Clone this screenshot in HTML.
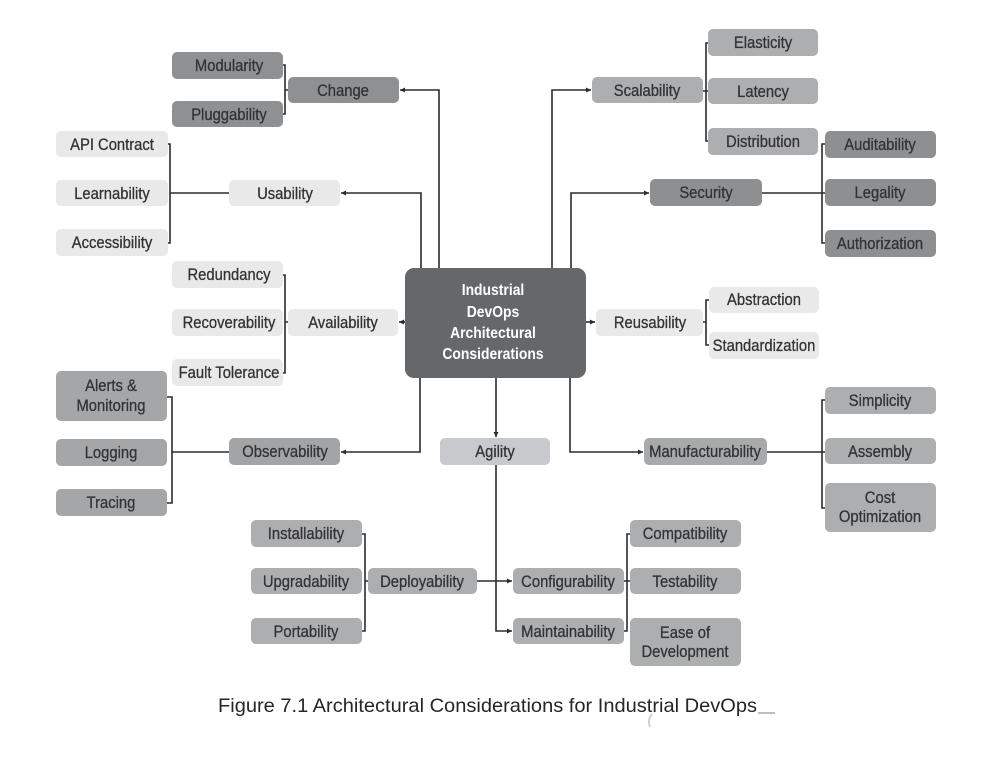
<!DOCTYPE html>
<html><head><meta charset="utf-8"><style>
html,body{margin:0;padding:0;background:#fff;}
svg{display:block;}
.t{font-family:"Liberation Sans",Arial,sans-serif;font-size:17px;fill:#333335;stroke:#333335;stroke-width:0.3;text-anchor:middle;}
.c{font-family:"Liberation Sans",Arial,sans-serif;font-size:16px;font-weight:bold;fill:#fff;text-anchor:middle;}
.ln{fill:none;stroke:#2b2b2b;stroke-width:1.6;}
</style></head><body>
<svg width="999" height="767" viewBox="0 0 999 767" xmlns="http://www.w3.org/2000/svg">
<defs>
<marker id="a" markerUnits="userSpaceOnUse" markerWidth="6" markerHeight="6" refX="5" refY="3" orient="auto"><path d="M0,0.5 L5,3 L0,5.5 z" fill="#2b2b2b"/></marker>
</defs>
<rect width="999" height="767" fill="#fff"/>

<g class="ln">
<polyline points="439,268 439,90 400,90" marker-end="url(#a)"/>
<path d="M281,65 H285 V114 H281 M285,90 H288"/>
<polyline points="421,268 421,193 341,193" marker-end="url(#a)"/>
<path d="M166,144 H170 V243 H166 M170,193 H229"/>
<line x1="405" y1="322" x2="399" y2="322" marker-end="url(#a)"/>
<path d="M281,275 H285 V373 H281 M285,322 H288"/>
<polyline points="420,378 420,452 341,452" marker-end="url(#a)"/>
<path d="M165,397 H172 V503 H165 M172,452 H229"/>
<line x1="496" y1="378" x2="496" y2="437" marker-end="url(#a)"/>
<polyline points="496,465 496,631 512,631" marker-end="url(#a)"/>
<line x1="477" y1="581" x2="512" y2="581" marker-end="url(#a)"/>
<path d="M362,534 H365 V631 H362 M365,581 H368"/>
<path d="M630,534 H627 V631 H624 M624,581 H630"/>
<polyline points="552,268 552,90 591,90" marker-end="url(#a)"/>
<path d="M708,43 H706 V141 H708 M703,91 H708"/>
<polyline points="571,268 571,193 649,193" marker-end="url(#a)"/>
<path d="M825,144 H822 V243 H825 M762,193 H825"/>
<line x1="586" y1="322" x2="595" y2="322" marker-end="url(#a)"/>
<path d="M709,300 H706 V345 H709 M703,322 H706"/>
<polyline points="570,378 570,452 643,452" marker-end="url(#a)"/>
<path d="M825,400 H822 V508 H825 M767,452 H825"/>
</g>

<g>
<rect x="172" y="52" width="111" height="27" rx="5" fill="#8f9092"/>
<rect x="172" y="101" width="111" height="26" rx="5" fill="#8f9092"/>
<rect x="288" y="77" width="111" height="26" rx="5" fill="#8f9092"/>
<rect x="56" y="131" width="112" height="26" rx="5" fill="#e9e9ea"/>
<rect x="56" y="180" width="112" height="26" rx="5" fill="#e9e9ea"/>
<rect x="56" y="229" width="112" height="27" rx="5" fill="#e9e9ea"/>
<rect x="229" y="180" width="111" height="26" rx="5" fill="#e9e9ea"/>
<rect x="172" y="261" width="111" height="27" rx="5" fill="#e9e9ea"/>
<rect x="172" y="309" width="111" height="27" rx="5" fill="#e9e9ea"/>
<rect x="172" y="359" width="111" height="27" rx="5" fill="#e9e9ea"/>
<rect x="288" y="309" width="110" height="27" rx="5" fill="#e9e9ea"/>
<rect x="405" y="268" width="181" height="110" rx="9" fill="#666769"/>
<rect x="56" y="371" width="111" height="50" rx="5" fill="#a5a6a8"/>
<rect x="56" y="439" width="111" height="27" rx="5" fill="#a5a6a8"/>
<rect x="56" y="489" width="111" height="27" rx="5" fill="#a5a6a8"/>
<rect x="229" y="438" width="111" height="27" rx="5" fill="#a3a4a6"/>
<rect x="440" y="438" width="110" height="27" rx="5" fill="#c8c9cc"/>
<rect x="592" y="77" width="111" height="26" rx="5" fill="#adaeb0"/>
<rect x="708" y="29" width="110" height="27" rx="5" fill="#adaeb0"/>
<rect x="708" y="78" width="110" height="26" rx="5" fill="#adaeb0"/>
<rect x="708" y="128" width="110" height="27" rx="5" fill="#adaeb0"/>
<rect x="825" y="131" width="111" height="27" rx="5" fill="#8e8f91"/>
<rect x="650" y="179" width="112" height="27" rx="5" fill="#8e8f91"/>
<rect x="825" y="179" width="111" height="27" rx="5" fill="#8e8f91"/>
<rect x="825" y="230" width="111" height="27" rx="5" fill="#8e8f91"/>
<rect x="596" y="309" width="107" height="27" rx="5" fill="#e9e9ea"/>
<rect x="709" y="287" width="110" height="26" rx="5" fill="#e9e9ea"/>
<rect x="709" y="332" width="110" height="27" rx="5" fill="#e9e9ea"/>
<rect x="825" y="387" width="111" height="27" rx="5" fill="#adaeb0"/>
<rect x="644" y="438" width="123" height="27" rx="5" fill="#a8a9ab"/>
<rect x="825" y="438" width="111" height="26" rx="5" fill="#adaeb0"/>
<rect x="825" y="483" width="111" height="49" rx="5" fill="#adaeb0"/>
<rect x="251" y="520" width="111" height="27" rx="5" fill="#adaeb0"/>
<rect x="251" y="568" width="111" height="26" rx="5" fill="#adaeb0"/>
<rect x="251" y="618" width="111" height="26" rx="5" fill="#adaeb0"/>
<rect x="368" y="568" width="109" height="26" rx="5" fill="#adaeb0"/>
<rect x="513" y="568" width="111" height="26" rx="5" fill="#adaeb0"/>
<rect x="513" y="618" width="111" height="26" rx="5" fill="#adaeb0"/>
<rect x="630" y="520" width="111" height="27" rx="5" fill="#adaeb0"/>
<rect x="630" y="568" width="111" height="26" rx="5" fill="#adaeb0"/>
<rect x="630" y="618" width="111" height="48" rx="5" fill="#adaeb0"/>
</g>

<g class="t">
<text transform="translate(229,71) scale(.87 1)">Modularity</text>
<text transform="translate(229,120) scale(.87 1)">Pluggability</text>
<text transform="translate(343,96) scale(.87 1)">Change</text>
<text transform="translate(112,150) scale(.87 1)">API Contract</text>
<text transform="translate(112,199) scale(.87 1)">Learnability</text>
<text transform="translate(112,248) scale(.87 1)">Accessibility</text>
<text transform="translate(285,199) scale(.87 1)">Usability</text>
<text transform="translate(229,280) scale(.87 1)">Redundancy</text>
<text transform="translate(229,328) scale(.87 1)">Recoverability</text>
<text transform="translate(229,378) scale(.87 1)">Fault Tolerance</text>
<text transform="translate(343,328) scale(.87 1)">Availability</text>
<text transform="translate(111,391) scale(.87 1)">Alerts &amp;</text>
<text transform="translate(111,411) scale(.87 1)">Monitoring</text>
<text transform="translate(111,458) scale(.87 1)">Logging</text>
<text transform="translate(111,508) scale(.87 1)">Tracing</text>
<text transform="translate(285,457) scale(.87 1)">Observability</text>
<text transform="translate(495,457) scale(.87 1)">Agility</text>
<text transform="translate(647,96) scale(.87 1)">Scalability</text>
<text transform="translate(763,48) scale(.87 1)">Elasticity</text>
<text transform="translate(763,97) scale(.87 1)">Latency</text>
<text transform="translate(763,147) scale(.87 1)">Distribution</text>
<text transform="translate(880,150) scale(.87 1)">Auditability</text>
<text transform="translate(706,198) scale(.87 1)">Security</text>
<text transform="translate(880,198) scale(.87 1)">Legality</text>
<text transform="translate(880,249) scale(.87 1)">Authorization</text>
<text transform="translate(650,328) scale(.87 1)">Reusability</text>
<text transform="translate(764,305) scale(.87 1)">Abstraction</text>
<text transform="translate(764,351) scale(.87 1)">Standardization</text>
<text transform="translate(880,406) scale(.87 1)">Simplicity</text>
<text transform="translate(705,457) scale(.87 1)">Manufacturability</text>
<text transform="translate(880,457) scale(.87 1)">Assembly</text>
<text transform="translate(880,503) scale(.87 1)">Cost</text>
<text transform="translate(880,522) scale(.87 1)">Optimization</text>
<text transform="translate(306,539) scale(.87 1)">Installability</text>
<text transform="translate(306,587) scale(.87 1)">Upgradability</text>
<text transform="translate(306,637) scale(.87 1)">Portability</text>
<text transform="translate(422,587) scale(.87 1)">Deployability</text>
<text transform="translate(568,587) scale(.87 1)">Configurability</text>
<text transform="translate(568,637) scale(.87 1)">Maintainability</text>
<text transform="translate(685,539) scale(.87 1)">Compatibility</text>
<text transform="translate(685,587) scale(.87 1)">Testability</text>
<text transform="translate(685,638) scale(.87 1)">Ease of</text>
<text transform="translate(685,657) scale(.87 1)">Development</text>
</g>
<g class="c">
<text transform="translate(493,295) scale(.87 1)">Industrial</text>
<text transform="translate(493,317) scale(.87 1)">DevOps</text>
<text transform="translate(493,338) scale(.87 1)">Architectural</text>
<text transform="translate(493,359) scale(.87 1)">Considerations</text>
</g>

<text x="218" y="712" font-family="Liberation Sans, Arial, sans-serif" font-size="19.5" fill="#262626" textLength="539" lengthAdjust="spacingAndGlyphs">Figure 7.1 Architectural Considerations for Industrial DevOps</text>
<line x1="758" y1="713" x2="775" y2="713" stroke="#9a9a9a" stroke-width="1.2"/>
<path d="M652,714 Q647,720 650,727" fill="none" stroke="#d0d0d0" stroke-width="2"/>
</svg>
</body></html>
